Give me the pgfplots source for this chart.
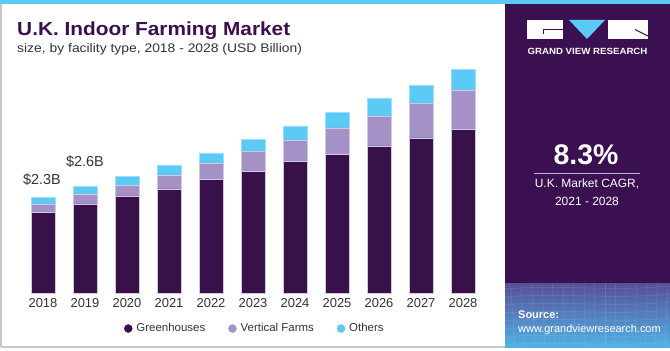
\documentclass[border=0pt]{standalone}
\usepackage{pgfplots}
\pgfplotsset{compat=1.18}
\usepackage{fontspec}
\setmainfont{Liberation Sans}
\definecolor{gh}{RGB}{56,17,75}
\definecolor{vf}{RGB}{164,145,198}
\definecolor{ot}{RGB}{91,203,245}
\definecolor{panel}{RGB}{58,16,80}
\definecolor{titlec}{RGB}{59,15,79}
\definecolor{txt}{RGB}{51,51,51}
\definecolor{frame}{RGB}{200,200,200}
\begin{document}
\begin{tikzpicture}[x=1bp,y=1bp]
\useasboundingbox (0,0) rectangle (670,350);
\fill[white] (0,0) rectangle (670,350);
\draw[frame, line width=1.2bp] (1,3) -- (1,346) (1,3) -- (669,3);
\fill[ot] (0,346) rectangle (670,350);
\fill[panel] (505,67) rectangle (670,346);
\shade[top color={rgb,255:red,88;green,78;blue,150}, bottom color={rgb,255:red,80;green,178;blue,232}] (505,3) rectangle (670,67);
\begin{scope}
\clip (505,3) rectangle (670,67);
\foreach \i in {0,...,16} {\draw[white, opacity=0.12, line width=0.5bp] (505+\i*10,3) -- (500+\i*10.5,67);}
\foreach \j in {0,...,7} {\draw[white, opacity=0.12, line width=0.5bp] (505,5+\j*8) .. controls (560,10+\j*8) and (610,2+\j*8) .. (670,8+\j*8);}
\end{scope}
% logo
\fill[white] (527,311) rectangle (563,330);
\draw[panel, line width=1bp] (563,320.5) -- (543,320.5) -- (543,316.5);
\fill[ot] (569,330) -- (605,330) -- (587,311) -- cycle;
\fill[white] (608,311) rectangle (648,330);
\draw[panel, line width=1bp] (635,320.5) -- (648,314);
\node[white, font=\fontsize{9}{10}\selectfont\bfseries, inner sep=0, xscale=1.08] at (587.5,299) {GRAND VIEW RESEARCH};
% CAGR
\node[white, font=\fontsize{28.5}{30}\selectfont\bfseries, inner sep=0] at (586,195) {8.3\%};
\draw[vf!70!white, line width=1bp] (534,176.7) -- (640,176.7);
\node[white, font=\fontsize{12}{13}\selectfont, inner sep=0] at (587,166) {U.K. Market CAGR,};
\node[white, font=\fontsize{12}{13}\selectfont, inner sep=0] at (587,148.3) {2021 - 2028};
% source
\node[white, font=\fontsize{11}{12}\selectfont\bfseries, inner sep=0, anchor=west] at (518,35) {Source:};
\node[white, font=\fontsize{11}{12}\selectfont, inner sep=0, anchor=west] at (518,20.7) {www.grandviewresearch.com};
% titles
\node[titlec, font=\fontsize{19}{22}\selectfont\bfseries, inner sep=0, anchor=base west, xscale=1.1] at (17,315) {U.K. Indoor Farming Market};
\node[txt, font=\fontsize{12.5}{14}\selectfont, inner sep=0, anchor=base west, xscale=1.115] at (17,297.7) {size, by facility type, 2018 - 2028 (USD Billion)};
% value labels
\node[txt, font=\fontsize{14.5}{16}\selectfont, inner sep=0] at (42,170) {\$2.3B};
\node[txt, font=\fontsize{14.5}{16}\selectfont, inner sep=0] at (85,188.5) {\$2.6B};
\begin{axis}[
  at={(22bp,57bp)}, anchor=south west, scale only axis,
  width=462bp, height=250.2bp,
  xmin=-0.5, xmax=10.5, ymin=0, ymax=6,
  ybar stacked, bar width=24bp,
  axis line style={draw=none}, major tick length=0pt,
  ytick=\empty,
  xtick={0,...,10},
  xticklabels={2018,2019,2020,2021,2022,2023,2024,2025,2026,2027,2028},
  xticklabel style={anchor=center, yshift=-10bp, text=txt, font=\fontsize{13}{13}\selectfont},
  clip=false,
  legend style={at={(0.504,-0.142)}, anchor=center, draw=none, fill=none,
    legend columns=-1, font=\fontsize{11.5}{12}\selectfont, text=txt,
    /tikz/every even column/.append style={column sep=21bp}},
]
\addplot[fill=gh, draw=vf!50!white, line width=0.4bp,
  legend image code/.code={\fill[gh] (0bp,0bp) circle (4bp); \path (6bp,0bp);}]
  coordinates {(0,1.94) (1,2.14) (2,2.33) (3,2.50) (4,2.73) (5,2.91) (6,3.15) (7,3.33) (8,3.53) (9,3.72) (10,3.92)};
\addplot[fill=vf, draw=vf!50!white, line width=0.4bp,
  legend image code/.code={\fill[vf] (0bp,0bp) circle (4bp); \path (6bp,0bp);}]
  coordinates {(0,0.20) (1,0.24) (2,0.25) (3,0.33) (4,0.39) (5,0.48) (6,0.52) (7,0.63) (8,0.72) (9,0.83) (10,0.95)};
\addplot[fill=ot, draw=ot!60!white, line width=0.4bp,
  legend image code/.code={\fill[ot] (0bp,0bp) circle (4bp); \path (6bp,0bp);}]
  coordinates {(0,0.16) (1,0.17) (2,0.22) (3,0.24) (4,0.24) (5,0.30) (6,0.34) (7,0.37) (8,0.43) (9,0.44) (10,0.50)};
\legend{Greenhouses, Vertical Farms, Others}
\end{axis}
\end{tikzpicture}
\end{document}
